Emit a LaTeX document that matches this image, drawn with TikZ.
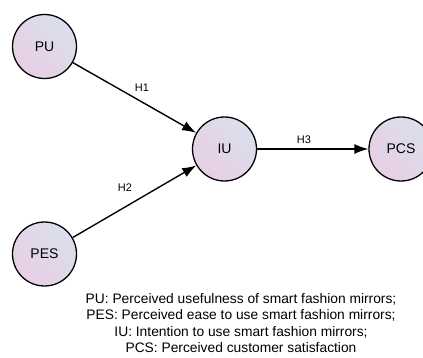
\documentclass[tikz,border=0pt]{standalone}
\usepackage{fontspec}
\setmainfont{Liberation Sans}
\usetikzlibrary{arrows.meta}
\definecolor{cA}{RGB}{218,223,236}
\definecolor{cB}{RGB}{232,206,228}
\tikzset{
  var/.style={circle, draw=black, line width=1.3pt, minimum size=64pt, inner sep=0pt,
    left color=cA, right color=cB, shading angle=-45, font=\fontsize{14}{16}\selectfont},
  path/.style={line width=1.4pt, -{Latex[length=14pt,width=10pt]}},
  hyp/.style={font=\fontsize{11}{13}\selectfont}
}
\begin{document}
\begin{tikzpicture}[x=1pt,y=-1pt]
\useasboundingbox (0,0) rectangle (423,358);
\node[var] (PU) at (44.5,46.5) {PU};
\node[var] (PES) at (44.5,254) {PES};
\node[var] (IU) at (224.5,149) {IU};
\node[var] (PCS) at (401,149) {PCS};
\draw[path] (PU) -- (IU);
\draw[path] (PES) -- (IU);
\draw[path] (IU) -- (PCS);
\node[hyp] (h1) at (142,88) {H1};
\node[hyp] (h2) at (125,188) {H2};
\node[hyp] (h3) at (304,140) {H3};
\node[align=center, font=\fontsize{13.8}{16.3}\selectfont] (legend) at (241,323)
  {PU: Perceived usefulness of smart fashion mirrors;\\
   PES: Perceived ease to use smart fashion mirrors;\\
   IU: Intention to use smart fashion mirrors;\\
   PCS: Perceived customer satisfaction};
\end{tikzpicture}
\end{document}
